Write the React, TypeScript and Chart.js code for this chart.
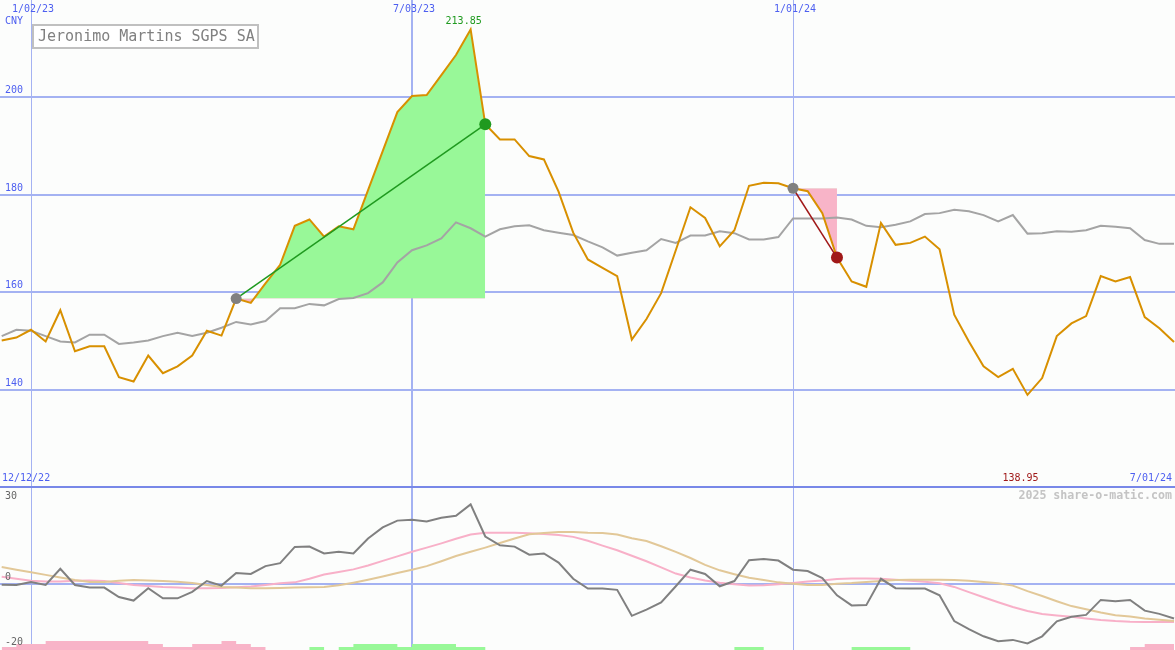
import { useEffect, useRef } from 'react';
import { Chart, registerables } from 'chart.js';

Chart.register(...registerables);

// Weekly closes; index 0 is week -2 relative to 1/02/23
const FIRST_WEEK = -2;

const price = [
  150.1, 150.7, 152.3, 149.9, 156.3, 147.9, 148.9, 148.9, 142.6, 141.7,
  147.0, 143.4, 144.8, 147.0, 152.1, 151.1, 158.7, 157.8, 161.8, 165.6,
  173.6, 174.9, 171.4, 173.5, 172.9, 180.9, 188.9, 196.9, 200.2, 200.4,
  204.5, 208.6, 213.85, 194.4, 191.3, 191.3, 187.9, 187.2, 180.6, 172.2,
  166.7, 165.0, 163.3, 150.3, 154.5, 159.8, 168.6, 177.4, 175.2, 169.4,
  172.7, 181.8, 182.4, 182.3, 181.3, 180.7, 176.2, 167.1, 162.2, 161.1,
  174.2, 169.7, 170.1, 171.4, 168.8, 155.4, 149.9, 144.8, 142.6, 144.3,
  138.95, 142.4, 151.0, 153.6, 155.1, 163.3, 162.2, 163.1, 154.9, 152.6,
  149.8,
];

const movingAverage = [
  151.0, 152.3, 152.1, 151.0, 149.9, 149.7, 151.3, 151.3, 149.4, 149.7,
  150.1, 151.0, 151.7, 151.0, 151.7, 152.7, 153.9, 153.4, 154.1, 156.7,
  156.7, 157.6, 157.3, 158.6, 158.8, 159.8, 162.0, 166.1, 168.6, 169.6,
  171.0, 174.3, 173.1, 171.4, 172.9, 173.5, 173.7, 172.7, 172.2, 171.7,
  170.4, 169.2, 167.5, 168.1, 168.6, 170.9, 170.1, 171.6, 171.6, 172.5,
  172.1, 170.8, 170.8, 171.3, 175.1, 175.1, 175.1, 175.3, 174.9, 173.6,
  173.3, 173.8, 174.5, 176.0, 176.2, 176.9, 176.6, 175.8, 174.5, 175.8,
  172.0, 172.1, 172.5, 172.4, 172.7, 173.6, 173.4, 173.1, 170.7, 169.9,
  169.9,
];

const oscillator = [
  -0.2, -0.3, 0.6, -0.3, 4.7, -0.3, -1.1, -1.1, -4.0, -5.1,
  -1.3, -4.4, -4.4, -2.4, 0.9, -0.5, 3.4, 3.1, 5.5, 6.4,
  11.4, 11.5, 9.4, 9.9, 9.4, 14.0, 17.4, 19.5, 19.8, 19.2,
  20.4, 21.0, 24.5, 14.6, 11.9, 11.5, 9.0, 9.4, 6.6, 1.6,
  -1.4, -1.4, -1.8, -9.8, -7.9, -5.7, -0.7, 4.4, 3.1, -0.7,
  0.9, 7.3, 7.7, 7.2, 4.4, 4.0, 1.8, -3.5, -6.6, -6.5,
  1.6, -1.3, -1.4, -1.4, -3.5, -11.4, -13.9, -16.1, -17.6, -17.2,
  -18.3, -16.1, -11.5, -10.1, -9.5, -4.9, -5.3, -4.9, -8.2, -9.2,
  -10.6,
];

const oscSignal = [
  2.2, 1.6, 1.0, 0.8, 0.8, 1.0, 1.1, 0.9, 0.3, -0.3,
  -0.6, -0.9, -1.1, -1.3, -1.3, -1.2, -1.0, -0.8, -0.3, 0.2,
  0.5, 1.6, 2.9, 3.7, 4.5, 5.7, 7.1, 8.5, 9.9, 11.2,
  12.5, 13.9, 15.2, 15.8, 15.8, 15.8, 15.6, 15.4, 15.1, 14.5,
  13.3, 11.8, 10.4, 8.7, 7.0, 5.1, 3.2, 2.0, 1.1, 0.4,
  -0.1, -0.5, -0.4, -0.1, 0.3, 0.8, 1.1, 1.5, 1.7, 1.7,
  1.6, 1.3, 1.0, 0.7, 0.2, -0.9, -2.5, -4.1, -5.6, -7.1,
  -8.3, -9.2, -9.7, -10.1, -10.6, -11.1, -11.4, -11.6, -11.7, -11.7,
  -11.7,
];

const oscSlow = [
  5.2, 4.4, 3.6, 2.8, 2.0, 1.2, 0.6, 0.6, 1.0, 1.2,
  1.1, 0.9, 0.7, 0.3, -0.3, -0.9, -1.1, -1.3, -1.3, -1.2,
  -1.1, -1.0, -0.9, -0.4, 0.4, 1.3, 2.3, 3.4, 4.4, 5.5,
  7.0, 8.6, 9.9, 11.2, 12.6, 14.0, 15.3, 15.7, 16.0, 16.0,
  15.8, 15.7, 15.2, 14.1, 13.2, 11.6, 9.9, 8.0, 5.9, 4.2,
  3.0, 1.9, 1.2, 0.5, 0.1, -0.3, -0.3, 0.1, 0.3, 0.6,
  0.9, 1.2, 1.3, 1.3, 1.3, 1.2, 1.0, 0.6, 0.2, -0.5,
  -2.2, -3.7, -5.3, -6.8, -7.8, -8.8, -9.6, -10.0, -10.6, -11.0,
  -11.4,
];

const histNegative = [
  1, 1, 2, 2, 3, 3, 3, 3, 3, 3,
  3, 2, 1, 1, 2, 2, 3, 2, 1, 0,
  0, 0, 0, 0, 0, 0, 0, 0, 0, 0,
  0, 0, 0, 0, 0, 0, 0, 0, 0, 0,
  0, 0, 0, 0, 0, 0, 0, 0, 0, 0,
  0, 0, 0, 0, 0, 0, 0, 0, 0, 0,
  0, 0, 0, 0, 0, 0, 0, 0, 0, 0,
  0, 0, 0, 0, 0, 0, 0, 0, 1, 2,
  2,
];

const histPositive = [
  0, 0, 0, 0, 0, 0, 0, 0, 0, 0,
  0, 0, 0, 0, 0, 0, 0, 0, 0, 0,
  0, 0, 1, 0, 1, 2, 2, 2, 1, 2,
  2, 2, 1, 1, 0, 0, 0, 0, 0, 0,
  0, 0, 0, 0, 0, 0, 0, 0, 0, 0,
  0, 1, 1, 0, 0, 0, 0, 0, 0, 1,
  1, 1, 1, 0, 0, 0, 0, 0, 0, 0,
  0, 0, 0, 0, 0, 0, 0, 0, 0, 0,
  0,
];

const dateTickWeeks = [0, 26, 52];
const dateTickLabels = ['1/02/23', '7/03/23', '1/01/24'];
const priceTicks = [200, 180, 160, 140];
const oscTicks = [30, 0, -20];
const rangeLabels = ['12/12/22', '7/01/24'];
const titleText = 'Jeronimo Martins SGPS SA';
const currencyText = 'CNY';
const watermark = '2025 share-o-matic.com';
const upMove = [14, 31];
const downMove = [52, 55];

// ---- styling ----
const BG = '#fcfdfc';
const GRID = '#a4b2f2';
const SEP = '#7888e8';
const BLUE_TEXT = '#4d5ff0';
const PRICE = '#d89000';
const AVG = '#a4a4a4';
const OSC = '#808080';
const PINK = '#f8b0c8';
const TAN = '#e2c898';
const GREEN_FILL = '#98f898';
const PINK_FILL = '#f8b4c8';
const UP = '#1f9a1f';
const DOWN = '#a01818';
const FONT = '"DejaVu Sans Mono", monospace';

const X_MIN = -2.1155;
const X_MAX = 78.066;

const pts = (arr: number[]) => arr.map((v, i) => ({ x: i + FIRST_WEEK, y: v }));
const at = (w: number) => price[w - FIRST_WEEK];
const span = (w0: number, w1: number) => {
  const out: { x: number; y: number }[] = [];
  for (let w = w0; w <= w1; w++) out.push({ x: w, y: at(w) });
  return out;
};

const mainDecor = {
  id: 'mainDecor',
  beforeDatasetsDraw(chart: any) {
    const { ctx, chartArea: a, scales } = chart;
    const xs = scales.x;
    const ys = scales.y;
    ctx.save();
    ctx.fillStyle = GRID;
    priceTicks.forEach((v) => {
      const py = ys.getPixelForValue(v);
      ctx.fillRect(a.left, Math.round(py - 1), a.width, 2);
    });
    dateTickWeeks.forEach((w, i) => {
      const px = Math.round(xs.getPixelForValue(w));
      const wdt = i === 1 ? 2 : 1;
      ctx.fillRect(px - (wdt - 1), a.top, wdt, a.height);
    });
    ctx.restore();
  },
  afterDatasetsDraw(chart: any) {
    const { ctx, chartArea: a, scales } = chart;
    const xs = scales.x;
    const ys = scales.y;
    ctx.save();
    ctx.font = '10px ' + FONT;
    ctx.textBaseline = 'middle';
    ctx.fillStyle = BLUE_TEXT;
    ctx.textAlign = 'left';
    priceTicks.forEach((v) => ctx.fillText(String(v), 5, ys.getPixelForValue(v) - 6.5));
    ctx.fillText(currencyText, 5, 21);
    ctx.textAlign = 'center';
    dateTickWeeks.forEach((w, i) => ctx.fillText(dateTickLabels[i], xs.getPixelForValue(w) + 2, 9));
    ctx.textAlign = 'left';
    ctx.fillText(rangeLabels[0], 2, a.bottom - 7.5);
    ctx.textAlign = 'right';
    ctx.fillText(rangeLabels[1], a.right - 3, a.bottom - 7.5);

    const maxV = Math.max(...price);
    const maxI = price.indexOf(maxV);
    ctx.textAlign = 'center';
    ctx.fillStyle = UP;
    ctx.fillText(maxV.toFixed(2), xs.getPixelForValue(maxI + FIRST_WEEK) - 7, ys.getPixelForValue(maxV) - 8.5);
    const minV = Math.min(...price);
    const minI = price.indexOf(minV);
    ctx.fillStyle = DOWN;
    ctx.fillText(minV.toFixed(2), xs.getPixelForValue(minI + FIRST_WEEK) - 7, a.bottom - 7.5);

    // title box
    ctx.fillStyle = '#ffffff';
    ctx.fillRect(33, 25, 225, 23);
    ctx.strokeStyle = '#c0c0c0';
    ctx.lineWidth = 2;
    ctx.strokeRect(33, 25, 225, 23);
    ctx.fillStyle = '#808080';
    ctx.font = '15px ' + FONT;
    ctx.textAlign = 'left';
    ctx.fillText(titleText, 38, 37);
    ctx.restore();
  },
};

const oscDecor = {
  id: 'oscDecor',
  beforeDatasetsDraw(chart: any) {
    const { ctx, chartArea: a, scales } = chart;
    const xs = scales.x;
    const ys = scales.y;
    ctx.save();
    ctx.fillStyle = GRID;
    dateTickWeeks.forEach((w, i) => {
      const px = Math.round(xs.getPixelForValue(w));
      const wdt = i === 1 ? 2 : 1;
      ctx.fillRect(px - (wdt - 1), a.top, wdt, a.height);
    });
    const zy = ys.getPixelForValue(0);
    ctx.fillRect(a.left, Math.round(zy - 1), a.width, 2);
    ctx.fillStyle = SEP;
    ctx.fillRect(a.left, a.top, a.width, 2);
    ctx.restore();
  },
  afterDatasetsDraw(chart: any) {
    const { ctx, chartArea: a, scales } = chart;
    const ys = scales.y;
    ctx.save();
    ctx.font = '10px ' + FONT;
    ctx.textBaseline = 'middle';
    ctx.textAlign = 'left';
    ctx.fillStyle = '#666666';
    oscTicks.forEach((v) => {
      const y = Math.max(ys.getPixelForValue(v) - 6.5, a.top + 10);
      ctx.fillText(String(v), 5, y);
    });
    ctx.font = 'bold 11.6px ' + FONT;
    ctx.fillStyle = '#c4c4c4';
    ctx.textAlign = 'right';
    ctx.fillText(watermark, a.right - 3, a.top + 10);
    ctx.restore();
  },
};

const baseOptions = (yScales: any) => ({
  responsive: false,
  maintainAspectRatio: false,
  animation: false as const,
  events: [] as any[],
  layout: { padding: 0, autoPadding: false },
  plugins: { legend: { display: false }, tooltip: { enabled: false } },
  elements: { point: { radius: 0, hoverRadius: 0 }, line: { tension: 0 } },
  scales: {
    x: { type: 'linear' as const, min: X_MIN, max: X_MAX, display: false },
    ...yScales,
  },
});

export default function App() {
  const topRef = useRef<HTMLCanvasElement>(null);
  const botRef = useRef<HTMLCanvasElement>(null);

  useEffect(() => {
    const upStart = at(upMove[0]);
    const downStart = at(downMove[0]);
    const top = new Chart(topRef.current as HTMLCanvasElement, {
      type: 'line',
      data: {
        datasets: [
          {
            data: [{ x: upMove[0], y: at(upMove[0]) }, { x: upMove[1], y: at(upMove[1]) }],
            borderColor: UP,
            borderWidth: 1.5,
            pointRadius: [5.5, 6],
            pointBackgroundColor: ['#808080', UP],
            pointBorderWidth: 0,
            order: 0,
          },
          {
            data: [{ x: downMove[0], y: at(downMove[0]) }, { x: downMove[1], y: at(downMove[1]) }],
            borderColor: DOWN,
            borderWidth: 1.5,
            pointRadius: [5.5, 6],
            pointBackgroundColor: ['#808080', DOWN],
            pointBorderWidth: 0,
            order: 0,
          },
          { data: pts(price), borderColor: PRICE, borderWidth: 2, order: 1 },
          { data: pts(movingAverage), borderColor: AVG, borderWidth: 2, order: 2 },
          {
            data: span(upMove[0], upMove[1]),
            borderWidth: 0,
            borderColor: 'rgba(0,0,0,0)',
            fill: { target: { value: upStart }, above: GREEN_FILL, below: PINK_FILL },
            order: 3,
          },
          {
            data: span(downMove[0], downMove[1]),
            borderWidth: 0,
            borderColor: 'rgba(0,0,0,0)',
            fill: { target: { value: downStart }, above: GREEN_FILL, below: PINK_FILL },
            order: 3,
          },
        ] as any,
      },
      options: baseOptions({
        y: { type: 'linear', min: 120.28, max: 219.877, display: false },
      }) as any,
      plugins: [mainDecor],
    });

    const bottom = new Chart(botRef.current as HTMLCanvasElement, {
      type: 'line',
      data: {
        datasets: [
          { data: pts(oscillator), borderColor: OSC, borderWidth: 2, order: 0 },
          { data: pts(oscSlow), borderColor: TAN, borderWidth: 2, order: 1 },
          { data: pts(oscSignal), borderColor: PINK, borderWidth: 2, order: 2 },
          {
            data: pts(histPositive),
            yAxisID: 'yh',
            stepped: 'after',
            borderWidth: 0,
            borderColor: 'rgba(0,0,0,0)',
            backgroundColor: GREEN_FILL,
            fill: 'origin',
            order: 5,
          },
          {
            data: pts(histNegative),
            yAxisID: 'yh',
            stepped: 'after',
            borderWidth: 0,
            borderColor: 'rgba(0,0,0,0)',
            backgroundColor: PINK_FILL,
            fill: 'origin',
            order: 5,
          },
        ] as any,
      },
      options: baseOptions({
        y: { type: 'linear', min: -20.31, max: 30.15, display: false },
        yh: { type: 'linear', min: 0, max: 164 / 3, display: false },
      }) as any,
      plugins: [oscDecor],
    });

    return () => {
      top.destroy();
      bottom.destroy();
    };
  }, []);

  return (
    <div
      style={{
        position: 'absolute',
        left: 0,
        top: 0,
        width: 1175,
        height: 650,
        background: BG,
        overflow: 'hidden',
      }}
    >
      <canvas ref={topRef} width={1175} height={486} style={{ display: 'block', width: 1175, height: 486 }} />
      <canvas ref={botRef} width={1175} height={164} style={{ display: 'block', width: 1175, height: 164 }} />
    </div>
  );
}
